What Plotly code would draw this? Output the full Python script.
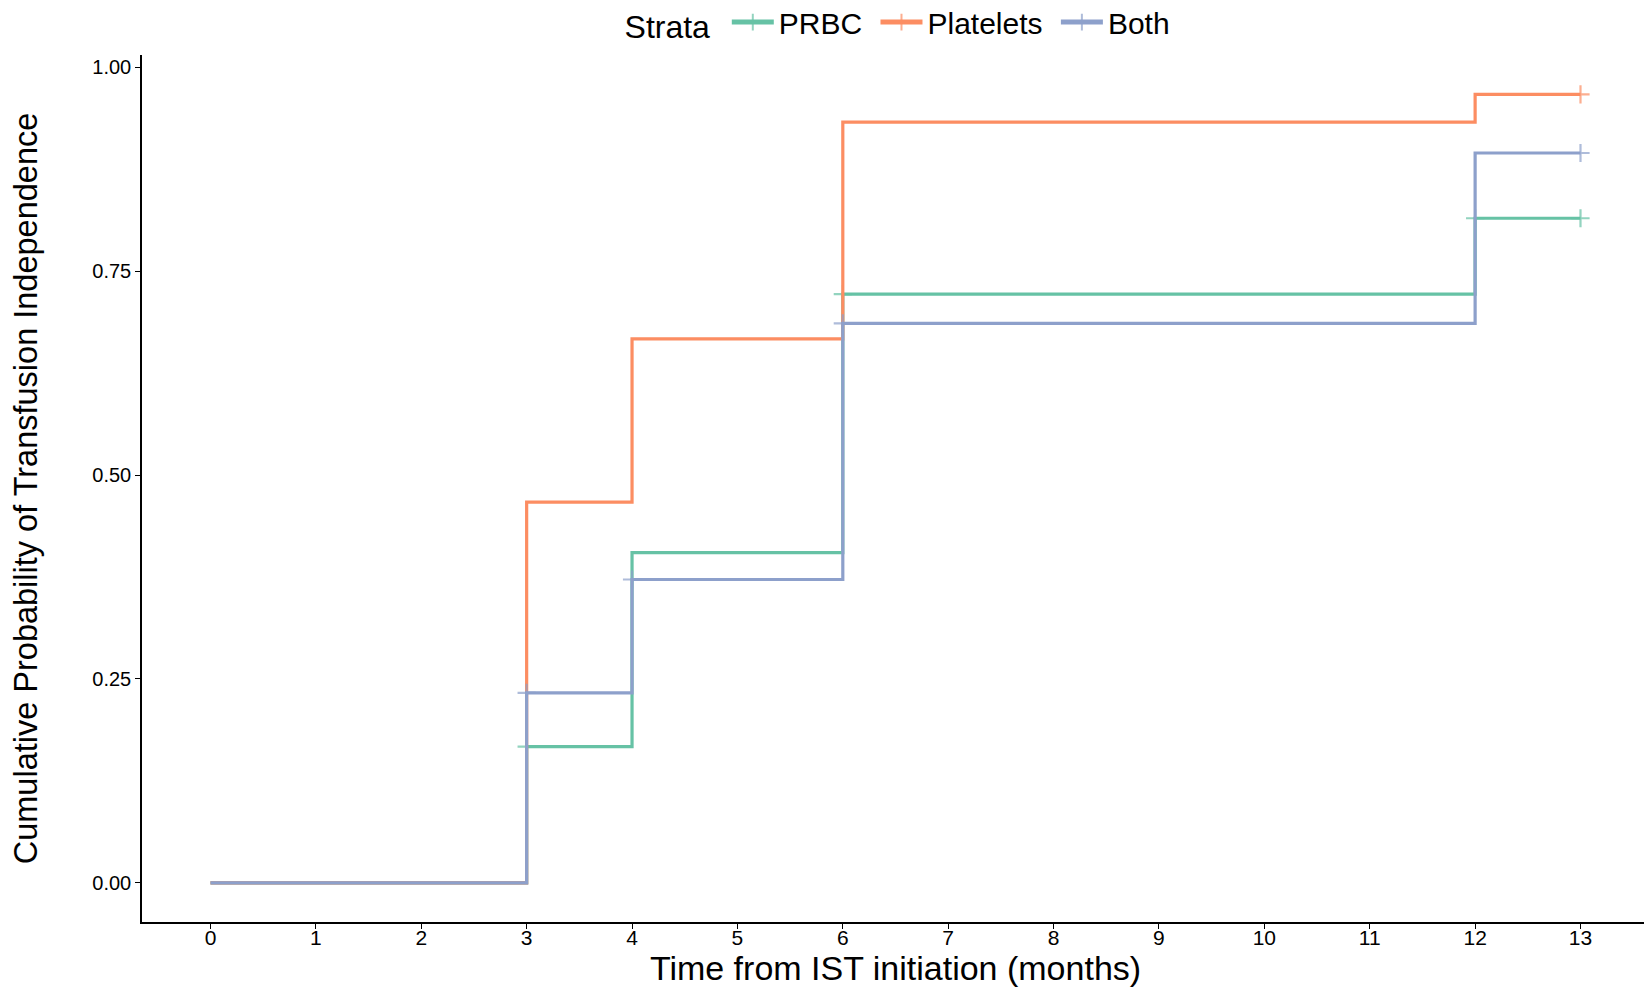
import plotly.graph_objects as go

# Data
times = [0, 3, 4, 6, 12, 13]
strata = ["PRBC", "Platelets", "Both"]
prbc = [0.0, 0.167, 0.405, 0.722, 0.815, 0.815]
platelets = [0.0, 0.467, 0.667, 0.933, 0.967, 0.967]
both = [0.0, 0.233, 0.372, 0.686, 0.895, 0.895]
# censor flags at each time point
prbc_cens = [False, True, False, True, True, True]
platelets_cens = [False, False, False, False, False, True]
both_cens = [False, True, True, True, False, True]

colors = {"PRBC": "#66C2A5", "Platelets": "#FC8D62", "Both": "#8DA0CB"}
series = {"PRBC": (prbc, prbc_cens), "Platelets": (platelets, platelets_cens), "Both": (both, both_cens)}

FONT = "Liberation Sans, Arial, Helvetica, sans-serif"

fig = go.Figure()
for name in strata:
    vals, cens = series[name]
    c = colors[name]
    fig.add_trace(go.Scatter(
        x=times, y=vals, name=name + "\u00a0", mode="lines+markers",
        line=dict(shape="hv", color=c, width=3.2),
        marker=dict(symbol="cross-thin", size=[13 if f else 0 for f in cens],
                    line=dict(color=c, width=2.2), color=c),
    ))

fig.update_layout(
    width=1644, height=981,
    paper_bgcolor="white", plot_bgcolor="white",
    margin=dict(l=134, r=3, t=47, b=67, autoexpand=False),
    font=dict(family=FONT, color="black"),
    showlegend=True,
    legend=dict(
        orientation="h", x=0.505, xanchor="center", y=1.038, yanchor="middle",
        title=dict(text="Strata\u00a0", font=dict(size=32)),
        font=dict(size=30), itemsizing="constant", itemwidth=42,
        traceorder="normal",
    ),
    xaxis=dict(
        range=[-0.65, 13.65], tickmode="array", tickvals=list(range(0, 14)),
        ticks="outside", ticklen=5, tickcolor="black", tickwidth=1.2,
        showline=True, linecolor="black", linewidth=1.5,
        showgrid=False, zeroline=False,
        tickfont=dict(size=21, color="black"),
        ticklabelstandoff=-9,
        title=dict(text="Time from IST initiation (months)", font=dict(size=34), standoff=6),
    ),
    yaxis=dict(
        range=[-0.048, 1.0152], tickmode="array", tickvals=[0, 0.25, 0.5, 0.75, 1.0],
        tickformat=".2f",
        ticks="outside", ticklen=5, tickcolor="black", tickwidth=1.2,
        showline=True, linecolor="black", linewidth=1.5,
        showgrid=False, zeroline=False,
        tickfont=dict(size=20, color="black"),
        title=dict(text="Cumulative Probability of Transfusion Independence", font=dict(size=32.5), standoff=52),
    ),
)

fig.write_html("out.html")
